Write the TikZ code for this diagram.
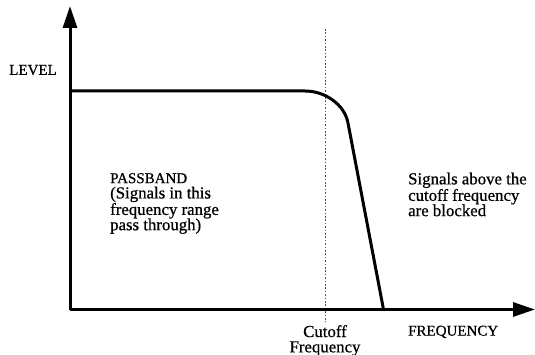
\documentclass[tikz,border=0pt]{standalone}
\usepackage{fontspec}
\setmainfont{Liberation Serif}[FakeBold=0.7]
\usetikzlibrary{arrows.meta}
\definecolor{ink}{HTML}{000000}
\definecolor{guide}{HTML}{555555}
\newcommand{\capsize}{\fontsize{15}{15.3}\selectfont}

\begin{document}
\begin{tikzpicture}[
  x=1pt, y=-1pt,
  font={\fontsize{16.8}{15.3}\selectfont},
  axis/.style={draw=ink, line width=3pt, -{Triangle[length=22pt, width=14pt]}},
  response/.style={draw=ink, line width=3pt, line join=round},
  cutline/.style={draw=guide, line width=0.9pt, dash pattern=on 1.6pt off 1.8pt},
  label/.style={text=ink, inner sep=0pt},
  note/.style={text=ink, inner sep=0pt, align=left, anchor=north west}
]
\useasboundingbox (0,0) rectangle (535,355);

\coordinate (origin) at (70,309.5);
\coordinate (ytip) at (70,6);
\coordinate (xtip) at (535,309.5);
\coordinate (cuttop) at (325,29);
\coordinate (cutbottom) at (325,322);

% cutoff marker
\draw[cutline] (cuttop) -- (cutbottom);

\draw[axis] (origin) -- (ytip);
\draw[axis] (origin) -- (xtip);

% low-pass response
\draw[response] (70,91) -- (305,91) .. controls (325,91) and (344.5,104.4) .. (348,123) -- (383.5,309.5);

\node[label, font=\capsize] (level) at (33,70) {LEVEL};
\node[note] (passband) at (110,173) {{\capsize PASSBAND}\\(Signals in this\\frequency range\\pass through)};
\node[note] (blocked) at (408,172.5) {Signals above the\\cutoff frequency\\are blocked};
\node[label, align=center, anchor=north] (cutoff) at (325,325) {Cutoff\\Frequency};
\node[label, font=\capsize, anchor=north west] (freq) at (408,325.5) {FREQUENCY};
\end{tikzpicture}
\end{document}
